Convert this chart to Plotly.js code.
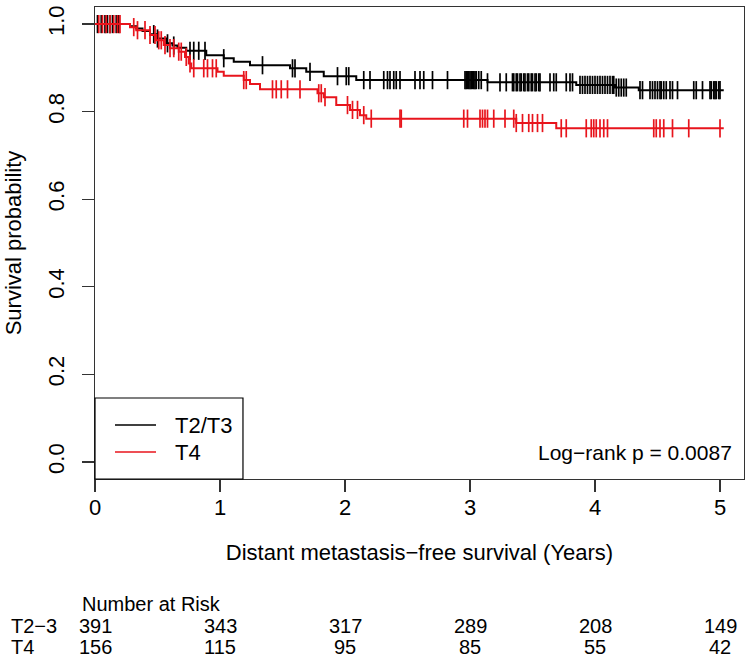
<!DOCTYPE html>
<html>
<head>
<meta charset="utf-8">
<script src="https://cdn.plot.ly/plotly-3.0.1.min.js"></script>
<style>
  html, body { margin: 0; padding: 0; background: #fff; }
  #km { width: 750px; height: 661px; }
</style>
</head>
<body>
<div id="km"></div>
<script>
// Kaplan-Meier steps (time in years, survival after the step)
const t23Times = [0, 0.28, 0.33, 0.38, 0.44, 0.50, 0.57, 0.62, 0.66, 0.73, 0.89, 1.03, 1.11, 1.24, 1.56, 1.69, 1.83, 2.09, 3.14, 3.85, 4.16, 4.35, 5.03];
const t23Surv  = [1, 0.995, 0.990, 0.984, 0.977, 0.967, 0.956, 0.951, 0.946, 0.939, 0.929, 0.922, 0.914, 0.906, 0.899, 0.891, 0.881, 0.872, 0.867, 0.861, 0.855, 0.849, 0.849];

const t4Times = [0, 0.28, 0.33, 0.44, 0.49, 0.55, 0.60, 0.67, 0.72, 0.75, 0.77, 0.98, 1.03, 1.19, 1.24, 1.32, 1.78, 1.83, 1.93, 2.04, 2.12, 2.17, 3.37, 3.69, 5.03];
const t4Surv  = [1, 0.993, 0.986, 0.975, 0.963, 0.952, 0.945, 0.937, 0.925, 0.910, 0.899, 0.891, 0.882, 0.872, 0.863, 0.851, 0.842, 0.833, 0.815, 0.804, 0.792, 0.784, 0.774, 0.762, 0.762];

// censored observations (times only, heights come from the curve)
const t23Censor = [0.02, 0.05, 0.08, 0.10, 0.12, 0.14, 0.17, 0.19, 0.47, 0.50, 0.58, 0.63, 0.76, 0.79, 0.83, 0.88, 1.03, 1.34, 1.58, 1.60, 1.72,
  1.94, 2.01, 2.03, 2.15, 2.20, 2.31, 2.34, 2.36, 2.39, 2.41, 2.44, 2.56, 2.60, 2.63, 2.70, 2.82,
  2.96, 2.97, 2.98, 2.99, 3.00, 3.01, 3.02, 3.03, 3.04, 3.05, 3.07, 3.09, 3.14, 3.24, 3.29,
  3.34, 3.35, 3.37, 3.38, 3.40, 3.41, 3.43, 3.44, 3.46, 3.47, 3.49, 3.50, 3.52, 3.53, 3.55, 3.56,
  3.64, 3.67, 3.69, 3.77, 3.80, 3.82, 3.88, 3.90, 3.92, 3.94, 3.96, 3.98, 4.00, 4.02, 4.04, 4.06, 4.08, 4.10, 4.12, 4.14, 4.15,
  4.17, 4.19, 4.21, 4.23, 4.25, 4.36, 4.38, 4.44, 4.46, 4.48, 4.50, 4.52, 4.53, 4.55, 4.57, 4.60, 4.62, 4.66,
  4.79, 4.81, 4.86, 4.92, 4.93, 4.95, 4.96, 4.97, 4.99, 5.00];
const t4Censor = [0.03, 0.06, 0.09, 0.12, 0.15, 0.18, 0.20, 0.31, 0.34, 0.40, 0.44, 0.48, 0.51, 0.53, 0.56, 0.60, 0.63, 0.67, 0.69,
  0.73, 0.76, 0.79, 0.87, 0.90, 0.94, 0.97, 1.19, 1.21, 1.42, 1.45, 1.49, 1.54, 1.64, 1.79, 1.81, 1.84,
  2.02, 2.06, 2.10, 2.15, 2.21, 2.44, 2.45, 2.95, 2.98, 3.08, 3.10, 3.12, 3.14, 3.19, 3.28, 3.35, 3.37,
  3.42, 3.47, 3.50, 3.54, 3.58, 3.73, 3.77, 3.93, 3.97, 3.99, 4.01, 4.04, 4.07, 4.10,
  4.47, 4.49, 4.52, 4.55, 4.62, 4.75, 5.00];

// number at risk table
const riskTimes = [0, 1, 2, 3, 4, 5];
const riskT23 = [391, 343, 317, 289, 208, 149];
const riskT4 = [156, 115, 95, 85, 55, 42];
const groupNames = ['T2/T3', 'T4'];
const riskLabels = ['T2\u22123', 'T4'];
const pValueText = 'Log\u2212rank p = 0.0087';

const BLACK = '#000000';
const RED = '#e8141c';
const FONT = 'Liberation Sans, Arial, sans-serif';

// step value of a curve at time t
const survAt = (times, surv, t) => {
    let s = surv[0];
    for (let i = 0; i < times.length; i++) {
        if (times[i] <= t) s = surv[i];
    }
    return s;
};

const curveTrace = (times, surv, color) => ({
    x: times, y: surv,
    mode: 'lines',
    line: { color: color, width: 2, shape: 'hv' },
    showlegend: false,
    hoverinfo: 'skip'
});

const censorTrace = (censor, times, surv, color) => ({
    x: censor,
    y: censor.map(t => survAt(times, surv, t)),
    mode: 'markers',
    marker: { symbol: 'line-ns-open', size: 13, color: color, line: { color: color, width: 1.7 } },
    showlegend: false,
    hoverinfo: 'skip'
});

const data = [
    curveTrace(t23Times, t23Surv, BLACK),
    censorTrace(t23Censor, t23Times, t23Surv, BLACK),
    curveTrace(t4Times, t4Surv, RED),
    censorTrace(t4Censor, t4Times, t4Surv, RED)
];

// risk table as annotations under the plot
const annotations = [];
const riskFont = { family: FONT, size: 20, color: '#000' };
riskTimes.forEach((t, i) => {
    annotations.push({ x: t, xref: 'x', y: 0, yref: 'paper', yshift: -147, text: String(riskT23[i]),
        showarrow: false, xanchor: 'center', yanchor: 'middle', font: riskFont });
    annotations.push({ x: t, xref: 'x', y: 0, yref: 'paper', yshift: -168, text: String(riskT4[i]),
        showarrow: false, xanchor: 'center', yanchor: 'middle', font: riskFont });
});
annotations.push({ x: 0, xref: 'paper', xshift: -15, y: 0, yref: 'paper', yshift: -125, text: 'Number at Risk',
    showarrow: false, xanchor: 'left', yanchor: 'middle', font: riskFont });
riskLabels.forEach((lab, i) => {
    annotations.push({ x: 0, xref: 'paper', xshift: -86, y: 0, yref: 'paper', yshift: -147 - 21 * i, text: lab,
        showarrow: false, xanchor: 'left', yanchor: 'middle', font: riskFont });
});

// p-value
annotations.push({ x: 1, xref: 'paper', xshift: -10, y: 0, yref: 'paper', yshift: 27, text: pValueText,
    showarrow: false, xanchor: 'right', yanchor: 'middle', font: { family: FONT, size: 21, color: '#000' } });

// legend (drawn as a boxed key in the lower-left corner)
const legendColors = [BLACK, RED];
const shapes = [{
    type: 'rect', xref: 'paper', yref: 'paper', x0: 0, x1: 0.228, y0: 0, y1: 81 / 472,
    line: { color: '#000', width: 1.2 }, fillcolor: 'rgba(0,0,0,0)'
}];
groupNames.forEach((name, i) => {
    const yy = (54 - 27 * i) / 472;
    shapes.push({ type: 'line', xref: 'paper', yref: 'paper', x0: 20 / 649, x1: 61 / 649, y0: yy, y1: yy,
        line: { color: legendColors[i], width: 1.5 } });
    annotations.push({ x: 78 / 649, xref: 'paper', y: yy, yref: 'paper', text: name, showarrow: false,
        xanchor: 'left', yanchor: 'middle', font: { family: FONT, size: 22, color: '#000' } });
});

const layout = {
    width: 750,
    height: 661,
    margin: { l: 95, r: 6, t: 7, b: 182 },
    paper_bgcolor: '#fff',
    plot_bgcolor: '#fff',
    font: { family: FONT, color: '#000' },
    showlegend: false,
    xaxis: {
        range: [0, 5.192],
        tickvals: riskTimes,
        ticktext: riskTimes.map(String),
        ticklabelstandoff: -4,
        ticks: 'outside', ticklen: 12, tickwidth: 1.2, tickcolor: '#333',
        showline: true, mirror: true, linecolor: '#333', linewidth: 1.2,
        showgrid: false, zeroline: false,
        tickfont: { family: FONT, size: 22 },
        title: { text: 'Distant metastasis\u2212free survival (Years)', font: { family: FONT, size: 22 }, standoff: 26 }
    },
    yaxis: {
        range: [-0.039, 1.039],
        tickvals: [0, 0.2, 0.4, 0.6, 0.8, 1.0],
        ticktext: ['0.0', '0.2', '0.4', '0.6', '0.8', '1.0'],
        tickangle: -90,
        ticklabelstandoff: 9,
        ticks: 'outside', ticklen: 12, tickwidth: 1.2, tickcolor: '#333',
        showline: true, mirror: true, linecolor: '#333', linewidth: 1.2,
        showgrid: false, zeroline: false,
        tickfont: { family: FONT, size: 22 },
        title: { text: 'Survival probability', font: { family: FONT, size: 22 }, standoff: 16 }
    },
    shapes: shapes,
    annotations: annotations
};

Plotly.newPlot('km', data, layout, { displayModeBar: false, staticPlot: true });
</script>
</body>
</html>
